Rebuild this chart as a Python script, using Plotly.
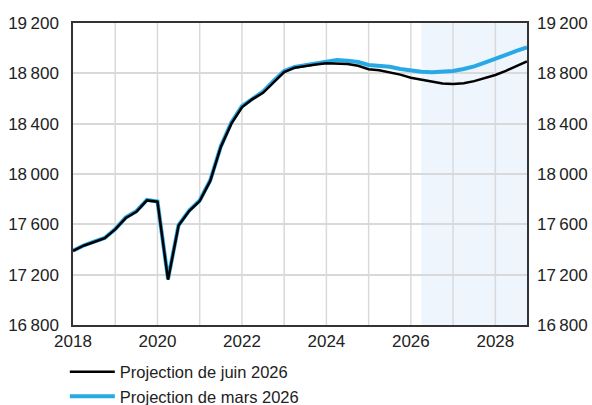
import plotly.graph_objects as go

# Quarterly dates (decimal years, start of quarter)
quarters = [2018 + 0.25 * i for i in range(44)]

juin_2026 = [
    17390, 17430, 17460, 17490,   # 2018
    17560, 17650, 17700, 17790,   # 2019
    17780, 17160, 17590, 17705,   # 2020
    17785, 17945, 18215, 18400,   # 2021
    18530, 18595, 18645, 18730,   # 2022
    18810, 18845, 18860, 18870,   # 2023
    18880, 18880, 18875, 18860,   # 2024
    18832, 18825, 18810, 18790,   # 2025
    18765, 18748, 18732, 18720,   # 2026
    18715, 18722, 18738, 18760,   # 2027
    18787, 18820, 18858, 18895,   # 2028
]

mars_2026 = [
    17390, 17432, 17462, 17492,   # 2018
    17562, 17655, 17705, 17795,   # 2019
    17782, 17165, 17595, 17710,   # 2020
    17790, 17950, 18220, 18410,   # 2021
    18540, 18600, 18655, 18740,   # 2022
    18818, 18850, 18866, 18880,   # 2023
    18898, 18906, 18900, 18890,   # 2024
    18866, 18862, 18852, 18835,   # 2025
    18820, 18812, 18808, 18810,   # 2026
    18819, 18835, 18855, 18885,   # 2027
    18918, 18948, 18978, 19007,   # 2028
]

projection_start = 2026.25
projection_end = 2028.75

y_ticks = [16800, 17200, 17600, 18000, 18400, 18800, 19200]
y_tick_labels = ["16\u2009800", "17\u2009200", "17\u2009600", "18\u2009000",
                 "18\u2009400", "18\u2009800", "19\u2009200"]
x_ticks = [2018, 2020, 2022, 2024, 2026, 2028]
x_grid = list(range(2019, 2029))

FONT = "Arial, 'Liberation Sans', sans-serif"

fig = go.Figure()

fig.add_trace(go.Scatter(
    x=quarters, y=mars_2026, mode="lines", name="Projection de mars 2026",
    line=dict(color="#29A8E6", width=4), legendrank=2,
))
fig.add_trace(go.Scatter(
    x=quarters, y=juin_2026, mode="lines", name="Projection de juin 2026",
    line=dict(color="#000000", width=2.5), legendrank=1,
))
# invisible trace to anchor right axis
fig.add_trace(go.Scatter(
    x=quarters, y=juin_2026, yaxis="y2", mode="lines",
    line=dict(width=0), showlegend=False, hoverinfo="skip", opacity=0,
))

fig.add_vrect(x0=projection_start, x1=projection_end, fillcolor="#EEF5FC",
              line_width=0, layer="below")

fig.update_layout(
    width=592, height=405,
    margin=dict(l=73, r=65, t=23, b=80, autoexpand=False),
    paper_bgcolor="white", plot_bgcolor="white",
    font=dict(family=FONT, size=17, color="#222222"),
    showlegend=True,
    legend=dict(
        x=-0.018, y=-0.098, xanchor="left", yanchor="top",
        orientation="v", font=dict(size=16.5, color="#222222"),
        itemwidth=45, tracegroupgap=0, bgcolor="rgba(0,0,0,0)",
    ),
    xaxis=dict(
        range=[2018, 2028.75], tickvals=x_ticks, ticktext=[str(v) for v in x_ticks],
        showgrid=False, showline=True, linecolor="#333333", linewidth=1.5,
        mirror=True, ticks="", zeroline=False, ticklabelstandoff=0,
        tickfont=dict(size=17), automargin=False,
    ),
    yaxis=dict(
        range=[16800, 19200], tickvals=y_ticks, ticktext=y_tick_labels,
        showgrid=True, gridcolor="#D9D9D9", gridwidth=1.5,
        showline=True, linecolor="#333333", linewidth=1.5, mirror=True,
        ticks="", zeroline=False, ticklabelstandoff=9, automargin=False,
    ),
    yaxis2=dict(
        range=[16800, 19200], tickvals=y_ticks, ticktext=y_tick_labels,
        overlaying="y", side="right", showgrid=False, showline=False,
        ticks="", zeroline=False, ticklabelstandoff=9, automargin=False,
    ),
)

for yr in x_grid:
    fig.add_shape(type="line", xref="x", yref="paper", x0=yr, x1=yr, y0=0, y1=1,
                  line=dict(color="#D9D9D9", width=1.5), layer="below")

fig.write_html(
    "out.html",
    config={"displayModeBar": False},
    post_script="document.body.style.margin='0';document.body.style.padding='0';",
)
